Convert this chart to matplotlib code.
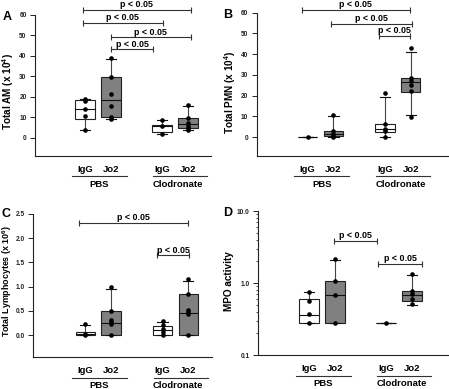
import matplotlib
matplotlib.use("Agg")
import matplotlib.pyplot as plt
from matplotlib import transforms
from matplotlib.ticker import FixedLocator, FuncFormatter, LogLocator, NullFormatter

plt.rcParams["font.family"] = ["Liberation Sans", "DejaVu Sans"]
plt.rcParams["font.weight"] = "bold"
plt.rcParams["mathtext.fontset"] = "custom"
plt.rcParams["mathtext.rm"] = "Liberation Sans:bold"
plt.rcParams["mathtext.bf"] = "Liberation Sans:bold"
plt.rcParams["mathtext.default"] = "bf"

W, H, DPI = 449, 389, 100

# ── shared categories ───────────────────────────────────────────────────────
positions = [1, 2, 4, 5]
tick_names = ["IgG", "Jo2", "IgG", "Jo2"]
groups = ["PBS", "Clodronate"]
group_spans = [(0.48, 2.62), (3.65, 5.75)]
group_centers = [1.55, 4.6]
box_fill = ["white", "#808080", "white", "#808080"]

# ── A: total AM (x 10^4) ────────────────────────────────────────────────────
am_points = [[3.6, 10.7, 13.9, 18.0, 18.9],
             [9.1, 9.9, 15.5, 21.3, 29.6, 39.0],
             [1.8, 5.7, 8.6],
             [3.7, 4.6, 5.7, 7.3, 9.4, 15.8]]
# (whislo, q1, med, q3, whishi)
am_box = [(3.6, 9.0, 13.9, 18.2, 18.9),
          (9.1, 9.9, 18.2, 29.5, 38.3),
          (1.8, 2.6, 5.6, 6.0, 8.6),
          (3.5, 4.6, 6.7, 9.6, 15.4)]
am_sig = [(0.91, 5.10, 62.3), (0.91, 4.02, 56.1), (2.01, 5.10, 49.0), (2.01, 3.65, 43.1)]

# ── B: total PMN (x 10^4) ───────────────────────────────────────────────────
pmn_points = [[0.2],
              [0.2, 0.5, 1.3, 2.9, 10.6],
              [0.15, 2.7, 3.7, 6.4, 21.2],
              [9.5, 22.4, 25.1, 27.2, 28.7, 42.8]]
pmn_box = [(0.2, 0.2, 0.2, 0.2, 0.2),
           (0.2, 0.5, 1.6, 2.8, 10.0),
           (0.2, 2.3, 3.7, 6.1, 19.5),
           (10.6, 21.9, 26.7, 28.6, 41.2)]
pmn_sig = [(0.77, 4.97, 61.4), (1.91, 5.04, 54.6), (3.78, 4.98, 48.8)]

# ── C: total lymphocytes (x 10^6) ───────────────────────────────────────────
lym_points = [[0.0, 0.02, 0.23],
              [0.0, 0.23, 0.27, 0.31, 0.5, 0.99],
              [0.0, 0.07, 0.13, 0.2, 0.3],
              [0.0, 0.43, 0.47, 0.52, 0.84, 1.15]]
lym_box = [(0.0, 0.0, 0.02, 0.06, 0.22),
           (0.0, 0.0, 0.26, 0.49, 0.95),
           (0.0, 0.0, 0.1, 0.18, 0.27),
           (0.0, 0.0, 0.45, 0.84, 1.11)]
lym_sig = [(0.77, 5.00, 2.32), (3.80, 5.02, 1.65)]

# ── D: MPO activity ─────────────────────────────────────────────────────────
mpo_points = [[0.281, 0.366, 0.556, 0.757],
              [0.28, 0.68, 1.05, 2.18],
              [0.28],
              [0.51, 0.605, 0.71, 0.765, 1.35]]
mpo_box = [(0.28, 0.28, 0.36, 0.60, 0.76),
           (0.28, 0.28, 0.68, 1.06, 2.11),
           (0.28, 0.28, 0.28, 0.28, 0.28),
           (0.50, 0.57, 0.69, 0.78, 1.30)]
mpo_sig = [(1.97, 3.63, 3.87), (3.69, 5.38, 1.84)]

PX_PER_UNIT = 25.75
PT = 72.0 / DPI

fig = plt.figure(figsize=(W / DPI, H / DPI), dpi=DPI)


def make_axes(left, top, right, bottom, c1):
    ax = fig.add_axes([left / W, 1 - bottom / H, (right - left) / W, (bottom - top) / H])
    ax.set_xlim(1 - (c1 - left) / PX_PER_UNIT, 1 + (right - c1) / PX_PER_UNIT)
    return ax


def draw_panel(ax, points, boxes, sigs, ylim, log=False):
    stats = [dict(whislo=b[0], q1=b[1], med=b[2], q3=b[3], whishi=b[4], fliers=[]) for b in boxes]
    xl = ax.get_xlim()
    bp = ax.bxp(stats, positions=positions, widths=0.76, capwidths=0.4,
                patch_artist=True, showfliers=False,
                boxprops=dict(edgecolor="#222222", linewidth=0.8),
                medianprops=dict(color="#111111", linewidth=0.8),
                whiskerprops=dict(color="#444444", linewidth=0.8),
                capprops=dict(color="#111111", linewidth=0.8))
    for patch, fc in zip(bp["boxes"], box_fill):
        patch.set_facecolor(fc)
    for pos, pts in zip(positions, points):
        ax.scatter([pos] * len(pts), pts, s=11, color="black", zorder=4, clip_on=False,
                   linewidths=0)
    if log:
        ax.set_yscale("log")
    ax.set_xlim(xl)
    ax.set_ylim(ylim)
    ax.set_xticks([])

    for s in ("top", "right"):
        ax.spines[s].set_visible(False)
    for s in ("left", "bottom"):
        ax.spines[s].set_linewidth(0.8)
        ax.spines[s].set_color("#222222")
    ax.tick_params(axis="y", direction="out", length=3.3, width=0.7,
                   pad=3, labelsize=4.7, colors="#222222")
    ax.tick_params(axis="y", which="minor", length=1.6, width=0.5)

    # significance brackets
    for x1, x2, y in sigs:
        ax.plot([x1, x2], [y, y], color="#333333", lw=0.8, marker="|", ms=4.5, mew=0.8,
                clip_on=False)
        ax.annotate("p < 0.05", xy=((x1 + x2) / 2, y), xytext=(0, 5 * PT),
                    textcoords="offset points", ha="center", va="center",
                    fontsize=6.4, fontweight="bold", annotation_clip=False)

    # category labels under the axis
    base = ax.get_xaxis_transform()
    t_lab = transforms.offset_copy(base, fig=fig, y=-13.5 * PT, units="points")
    t_line = transforms.offset_copy(base, fig=fig, y=-20.7 * PT, units="points")
    t_grp = transforms.offset_copy(base, fig=fig, y=-29 * PT, units="points")
    for pos, name in zip(positions, tick_names):
        ax.text(pos, 0, name, transform=t_lab, ha="center", va="center", fontsize=6.8)
    for (a, b), c, g in zip(group_spans, group_centers, groups):
        ax.plot([a, b], [0, 0], transform=t_line, color="#333333", lw=0.8, clip_on=False)
        ax.text(c, 0, g, transform=t_grp, ha="center", va="center", fontsize=6.8)


def fig_text(x, y, s, **kw):
    fig.text(x / W, 1 - y / H, s, **kw)


# A
axA = make_axes(35.3, 14.7, 211, 155.5, 85)
draw_panel(axA, am_points, am_box, am_sig, (-8.7, 60))
axA.yaxis.set_major_locator(FixedLocator([0, 10, 20, 30, 40, 50, 60]))
fig_text(8.5, 92, r"Total AM (x 10$^{4}$)", rotation=90, ha="center", va="center",
         fontsize=7.2)
fig_text(7.5, 17, "A", ha="center", va="center", fontsize=9)

# B
axB = make_axes(256.7, 12.7, 449, 155.5, 307.7)
draw_panel(axB, pmn_points, pmn_box, pmn_sig, (-8.9, 60))
axB.yaxis.set_major_locator(FixedLocator([0, 10, 20, 30, 40, 50, 60]))
fig_text(230, 92, r"Total PMN (x 10$^{4}$)", rotation=90, ha="center", va="center",
         fontsize=7.2)
fig_text(228, 15, "B", ha="center", va="center", fontsize=9)

# C
axC = make_axes(33.3, 214, 211.7, 357, 85.3)
draw_panel(axC, lym_points, lym_box, lym_sig, (-0.45, 2.5))
axC.yaxis.set_major_locator(FixedLocator([0, 0.5, 1.0, 1.5, 2.0, 2.5]))
axC.yaxis.set_major_formatter(FuncFormatter(lambda v, p: f"{v:.1f}"))
fig_text(6.7, 281, r"Total Lymphocytes (x 10$^{6}$)", rotation=90, ha="center",
         va="center", fontsize=6.4)
fig_text(6, 214, "C", ha="center", va="center", fontsize=9)

# D
axD = make_axes(258.3, 211, 449, 355, 309)
draw_panel(axD, mpo_points, mpo_box, mpo_sig, (0.1, 10), log=True)
axD.yaxis.set_major_locator(FixedLocator([0.1, 1.0, 10.0]))
axD.yaxis.set_major_formatter(FuncFormatter(lambda v, p: f"{v:.1f}"))
axD.yaxis.set_minor_locator(LogLocator(base=10, subs=range(2, 10)))
axD.yaxis.set_minor_formatter(NullFormatter())
fig_text(229, 281, "MPO activity", rotation=90, ha="center", va="center", fontsize=7.2)
fig_text(228, 213, "D", ha="center", va="center", fontsize=9)

fig.savefig("out.png", dpi=DPI)
